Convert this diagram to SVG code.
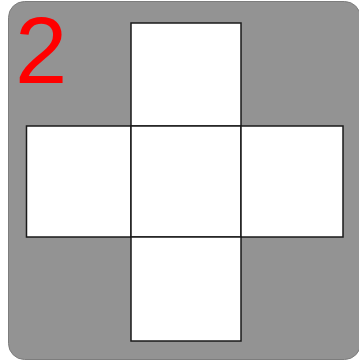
<svg xmlns="http://www.w3.org/2000/svg" width="359" height="362" viewBox="0 0 359 362">
<style>
.sq{fill:#ffffff;stroke:#1a1a1a;stroke-width:1.5}
.lbl{font-family:"Liberation Sans",Arial,sans-serif;font-size:94px;fill:#ff0000}
</style>
<rect id="bg" x="8.5" y="1.5" width="352" height="358" rx="16" ry="16" fill="#939393" stroke="#7d7d7d" stroke-width="1"/>
<text class="lbl" x="15" y="83">2</text>
<g id="top"><rect class="sq" x="131" y="23" width="110" height="103"/></g>
<g id="left"><rect class="sq" x="26.5" y="126" width="104.5" height="111"/></g>
<g id="center"><rect class="sq" x="131" y="126" width="110" height="111"/></g>
<g id="right"><rect class="sq" x="241" y="126" width="102" height="111"/></g>
<g id="bottom"><rect class="sq" x="131" y="237" width="110" height="104"/></g>
<g id="connectors"></g>
</svg>
